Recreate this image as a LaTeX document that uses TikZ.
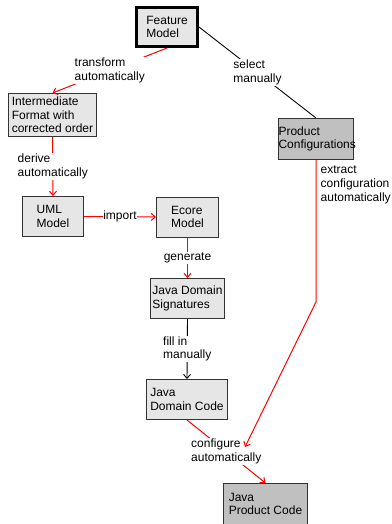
\documentclass[tikz,border=0pt]{standalone}
\usepackage{fontspec}
\setmainfont{Liberation Sans}
\usetikzlibrary{arrows.meta}
\definecolor{boxgray}{RGB}{230,230,230}
\definecolor{darkbox}{RGB}{192,192,192}
\definecolor{linkred}{RGB}{255,0,0}
\newcommand{\dgfont}{\fontsize{12}{13.7}\selectfont}
\begin{document}
\begin{tikzpicture}[x=1pt,y=-1pt,
  box/.style={draw=black!80, line width=1pt, fill=boxgray, align=left, inner sep=1pt, font=\dgfont},
  darkbox/.style={box, fill=darkbox},
  lbl/.style={fill=white, align=left, inner sep=1pt, font=\dgfont},
  redlink/.style={draw=linkred, line width=1pt},
  redarrow/.style={redlink, -{Straight Barb[length=4pt,width=7pt]}},
  blacklink/.style={draw=black, line width=0.9pt},
  blackarrow/.style={blacklink, -{Straight Barb[length=4pt,width=7pt]}}]
\useasboundingbox (0,0) rectangle (391,524);
\node[box, line width=3pt, draw=black, minimum width=61pt, minimum height=39pt] (fm) at (167,27) {Feature\\Model};
\node[box, minimum width=88pt, minimum height=43pt] (inter) at (52.5,115) {Intermediate\\Format with\\corrected order};
\node[box, minimum width=61pt, minimum height=40pt] (uml) at (53,216.5) {UML\\Model};
\node[box, minimum width=62pt, minimum height=40pt] (ecore) at (187.5,217) {Ecore\\Model};
\node[box, minimum width=74pt, minimum height=40pt] (sig) at (187.5,298.5) {Java Domain\\Signatures};
\node[box, minimum width=81pt, minimum height=40pt] (dcode) at (187,399.5) {Java\\Domain Code};
\node[darkbox, minimum width=84pt, minimum height=41pt] (pcode) at (265.5,504) {Java\\Product Code};
\node[darkbox, inner xsep=0pt, text width=75pt, minimum height=41pt] (pconf) at (316,139) {Product\\Configurations};
\coordinate (bend) at (316,302);
\coordinate (cfgend) at (245,447);

\draw[redarrow] (fm.south) -- node[lbl] {transform\\automatically} (inter.north);
\draw[redarrow] (inter.south) -- node[lbl] {derive\\automatically} (uml.north);
\draw[redarrow] (uml.east) -- node[lbl, inner xsep=0pt] {import} (ecore.west);
\draw[redarrow] (ecore.south) -- node[lbl] {generate} (sig.north);
\draw[blackarrow] (sig.south) -- node[lbl] {fill in\\manually} (dcode.north);
\draw[redarrow] (dcode.south) -- node[lbl] {configure\\automatically} (pcode.north);
\draw[blacklink] (fm.east) -- node[lbl] {select\\manually} (pconf.north);
\draw[redarrow] (pconf.south) -- (bend) -- (cfgend);
\node[lbl, fill=none, anchor=north west] (extract) at (319.5,165) {extract\\configuration\\automatically};
\end{tikzpicture}
\end{document}
